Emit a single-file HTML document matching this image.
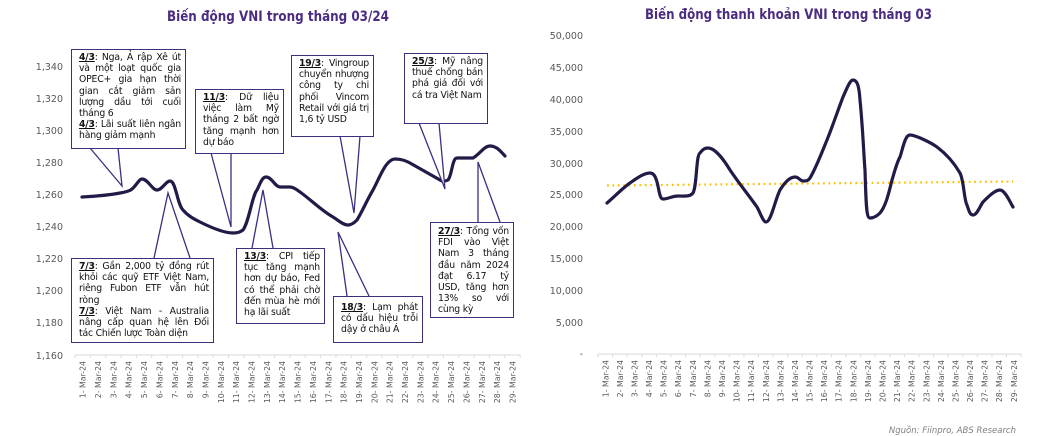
<!DOCTYPE html>
<html><head><meta charset="utf-8"><style>
body{margin:0;background:#fff;width:1041px;height:436px;overflow:hidden;position:relative;font-family:"DejaVu Sans","Liberation Sans",sans-serif}
svg{position:absolute;left:0;top:0}
.b{position:absolute;background:#fff;border:1.3px solid #3f2d80;box-sizing:border-box;font-family:"DejaVu Sans","Liberation Sans",sans-serif;font-size:9.3px;line-height:11.2px;color:#111;padding:2px 4px 0 7px;text-align:justify;letter-spacing:-0.2px;word-spacing:0px}
.b u{font-weight:bold;}
</style></head><body>
<svg width="1041" height="436" viewBox="0 0 1041 436">
<g font-family="DejaVu Sans Condensed, Liberation Sans Narrow, Liberation Sans, sans-serif" font-weight="bold" fill="#4b2c80" font-size="14">
<text x="167" y="21" textLength="222" lengthAdjust="spacingAndGlyphs">Biến động VNI trong tháng 03/24</text>
<text x="645" y="19" textLength="287" lengthAdjust="spacingAndGlyphs">Biến động thanh khoản VNI trong tháng 03</text>
</g>
<g font-size="9.5" fill="#595959" text-anchor="end">
<text x="63" y="70">1,340</text><text x="63" y="102">1,320</text><text x="63" y="134">1,300</text>
<text x="63" y="166">1,280</text><text x="63" y="198">1,260</text><text x="63" y="230">1,240</text>
<text x="63" y="262">1,220</text><text x="63" y="294">1,200</text><text x="63" y="326">1,180</text>
<text x="63" y="359">1,160</text>
<text x="583" y="39">50,000</text><text x="583" y="71">45,000</text><text x="583" y="103">40,000</text>
<text x="583" y="135">35,000</text><text x="583" y="167">30,000</text><text x="583" y="198">25,000</text>
<text x="583" y="230">20,000</text><text x="583" y="262">15,000</text><text x="583" y="294">10,000</text>
<text x="583" y="326">5,000</text><text x="583" y="357">-</text>
</g>
<line x1="75" y1="355" x2="520" y2="355" stroke="#d9d9d9" stroke-width="1"/>
<line x1="598" y1="354" x2="1021" y2="354" stroke="#d9d9d9" stroke-width="1"/>
<g id="lt" stroke="#d9d9d9"></g>
<g id="lx" font-size="7.8" fill="#595959" text-anchor="end"></g>
<path d="M82,197 C100,196 115,194 120,193 C126,192 130,191 132,189 C136,186 139,179 142,179 C148,179 152,190 157,190 C162,190 166,181 170,181 C176,181 177,204 183,210 C188,216 194,219 200,222 C212,228 224,233 233,233 C238,233 240,232 243,230 C249,222 252,196 257,190 C260,184 262,177 266,177 C272,177 275,187 280,187 L290,187 C294,187 297,190 300,192 C310,199 322,211 333,217 C338,220 343,225 348,225 C352,225 355,222 357,220 C362,212 367,200 373,190 C380,177 386,159 395,159 C402,159 406,161 410,163 L440,180 C443,182 446,181 448,180 C452,176 452,158 457,158 C462,158 468,158 473,158 C480,154 484,146 490,146 C497,146 501,152 505,156" fill="none" stroke="#221b47" stroke-width="3.2" stroke-linecap="round"/>
<line x1="607" y1="185.5" x2="1013" y2="181.5" stroke="#ffc000" stroke-width="2.2" stroke-dasharray="1.8 3.6"/>
<path d="M607,203 C615,196 624,187 630,183 C637,178 644,173 650,173 C653,173 655,176 656,179 C659,186 659,199 663,199 C668,199 672,196 678,196 C684,196 690,197 693,193 C697,186 696,155 700,153 C703,149 705,148 708,148 C715,148 724,160 730,170 C738,182 750,197 757,207 C760,212 763,222 766,222 C771,222 775,200 780,190 C785,182 790,177 795,177 C799,177 800,181 803,181 C806,181 808,181 810,178 C816,168 822,152 827,140 C833,125 838,110 843,97 C847,88 850,80 853,80 C857,80 859,85 860,100 C863,130 864,160 865,170 C866,200 866,218 870,218 C874,218 877,216 880,213 C886,206 889,192 892,180 C895,170 897,162 900,157 C903,148 905,135 910,135 C915,135 930,142 937,147 C945,153 953,161 960,173 C964,181 964,200 967,205 C969,211 970,215 973,215 C977,215 980,206 983,202 C989,196 995,190 1000,190 C1005,190 1010,202 1013,207" fill="none" stroke="#221b47" stroke-width="3.2" stroke-linecap="round"/>
<g fill="#fff" stroke="#3f2d80" stroke-width="1.3">
<polyline points="90,148 122,186 118,148"/>
<polyline points="211,153 231,227 231,153"/>
<polyline points="340,136 354,213 360,136"/>
<polyline points="419,123 445,189 439,123"/>
<polyline points="154,258 168,193 190,258"/>
<polyline points="252,248 263,190 273,248"/>
<polyline points="347,296 338,232 369,296"/>
<polyline points="478,222 478,162 500,222"/>
</g>
<text x="1016" y="433" font-size="8.5" font-style="italic" fill="#7f7f7f" text-anchor="end">Nguồn: Fiinpro, ABS Research</text>
</svg>
<div class="b" style="left:71px;top:49px;width:115px;height:100px"><u>4/3</u>: Nga, Ả rập Xê út và một loạt quốc gia OPEC+ gia hạn thời gian cắt giảm sản lượng dầu tới cuối tháng 6<br><u>4/3</u>: Lãi suất liên ngân hàng giảm mạnh</div>
<div class="b" style="left:195px;top:89px;width:89px;height:65px"><u>11/3</u>: Dữ liệu việc làm Mỹ tháng 2 bất ngờ tăng mạnh hơn dự báo</div>
<div class="b" style="left:291px;top:55px;width:83px;height:82px"><u>19/3</u>: Vingroup chuyển nhượng công ty chi phối Vincom Retail với giá trị 1,6 tỷ USD</div>
<div class="b" style="left:404px;top:53px;width:84px;height:71px"><u>25/3</u>: Mỹ nâng thuế chống bán phá giá đối với cá tra Việt Nam</div>
<div class="b" style="left:71px;top:258px;width:143px;height:85px"><u>7/3</u>: Gần 2,000 tỷ đồng rút khỏi các quỹ ETF Việt Nam, riêng Fubon ETF vẫn hút ròng<br><u>7/3</u>: Việt Nam - Australia nâng cấp quan hệ lên Đối tác Chiến lược Toàn diện</div>
<div class="b" style="left:236px;top:248px;width:89px;height:76px"><u>13/3</u>: CPI tiếp tục tăng mạnh hơn dự báo, Fed có thể phải chờ đến mùa hè mới hạ lãi suất</div>
<div class="b" style="left:333px;top:296px;width:90px;height:47px;padding-top:5px"><u>18/3</u>: Lạm phát có dấu hiệu trỗi dậy ở châu Á</div>
<div class="b" style="left:430px;top:222px;width:84px;height:96px;padding-top:3px"><u>27/3</u>: Tổng vốn FDI vào Việt Nam 3 tháng đầu năm 2024 đạt 6.17 tỷ USD, tăng hơn 13% so với cùng kỳ</div>
<script>
var ns="http://www.w3.org/2000/svg",lt=document.getElementById('lt'),lx=document.getElementById('lx');
function axis(x0,w,y){for(var i=0;i<=29;i++){var l=document.createElementNS(ns,'line');var x=x0+i*w;l.setAttribute('x1',x);l.setAttribute('x2',x);l.setAttribute('y1',y);l.setAttribute('y2',y+3);lt.appendChild(l);}
for(var i=0;i<29;i++){var t=document.createElementNS(ns,'text');var x=x0+(i+0.5)*w+3;t.setAttribute('transform','translate('+x+','+(y+6)+') rotate(-90)');t.textContent=(i+1)+'- Mar-24';lx.appendChild(t);}}
axis(75,15.35,355);axis(598,14.59,354);
</script>
</body></html>
